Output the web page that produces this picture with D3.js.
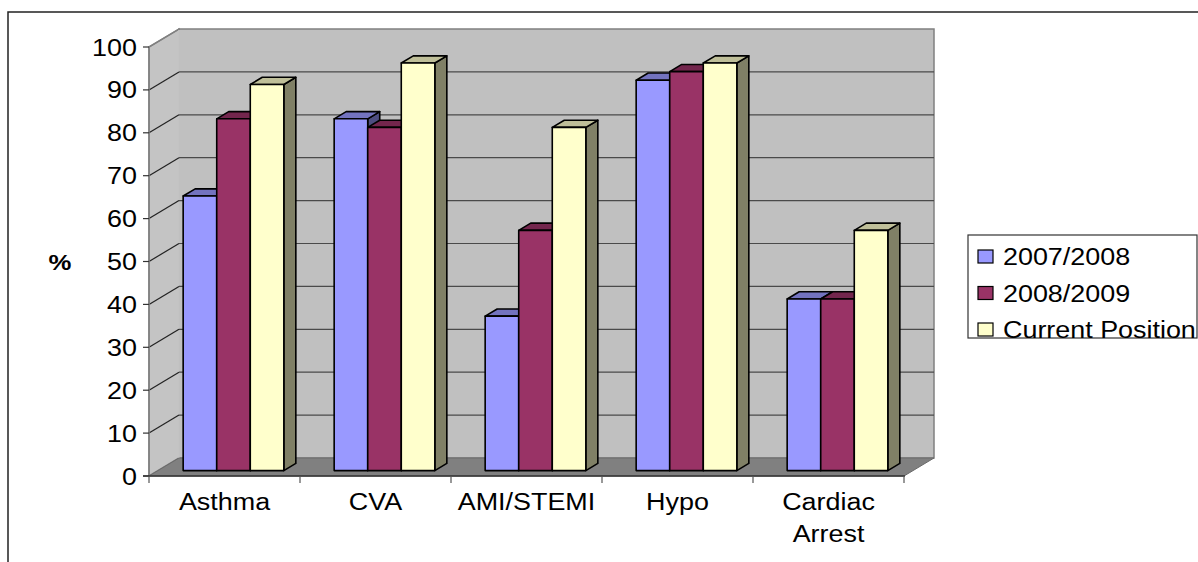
<!DOCTYPE html>
<html><head><meta charset="utf-8">
<script src="https://cdn.jsdelivr.net/npm/d3@7"></script>
<style>html,body{margin:0;padding:0;background:#fff;}svg{display:block;}</style>
</head><body>
<svg id="c" width="1198" height="562"></svg>
<script>
const categories = ["Asthma", "CVA", "AMI/STEMI", "Hypo", "Cardiac Arrest"];
const seriesNames = ["2007/2008", "2008/2009", "Current Position"];
const s2007 = [64, 82, 36, 91, 40];
const s2008 = [82, 80, 56, 93, 40];
const sCurrent = [90, 95, 80, 95, 56];
const yTicks = [0, 10, 20, 30, 40, 50, 60, 70, 80, 90, 100];
const seriesValues = [s2007, s2008, sCurrent];
const colors = ["#9999FF", "#993366", "#FFFFCC"];

const svg = d3.select("#c");
const FONT = "'Liberation Sans', Arial, sans-serif";
const SX = 1.17, FS = 23;

const left = 149, right = 904, y0px = 476, y100px = 47;
const DX = 30, DY = -18; // depth of plot box
const y = d3.scaleLinear().domain([0, 100]).range([y0px, y100px]);
const x0 = d3.scaleBand().domain(categories).range([left, right]).paddingInner(0).paddingOuter(0);
const x1 = d3.scaleBand().domain(seriesNames).range([0, x0.bandwidth()]).paddingInner(0).paddingOuter(0.75);

function txt(g, str, x, yy, anchor, opts = {}) {
  return g.append("text")
    .attr("transform", `translate(${x},${yy}) scale(${SX},1)`)
    .attr("text-anchor", anchor)
    .attr("font-family", FONT)
    .attr("font-size", opts.size || FS)
    .attr("font-weight", opts.weight || "normal")
    .attr("fill", "#000")
    .text(str);
}

// outer border
svg.append("path").attr("d", "M8,562V12H1198").attr("fill", "none").attr("stroke", "#222").attr("stroke-width", 1.5);

// back wall
svg.append("rect").attr("x", left + DX).attr("y", y100px + DY).attr("width", right - left).attr("height", y0px - y100px)
  .attr("fill", "#c0c0c0").attr("stroke", "#808080").attr("stroke-width", 1.5);
// side wall
svg.append("polygon").attr("points", [[left, y100px], [left + DX, y100px + DY], [left + DX, y0px + DY], [left, y0px]].join(" "))
  .attr("fill", "#c4c4c4").attr("stroke", "#808080").attr("stroke-width", 1.5);
svg.append("line").attr("x1", left + DX).attr("x2", left + DX).attr("y1", y100px + DY + 1).attr("y2", y0px + DY)
  .attr("stroke", "#d4d4d4").attr("stroke-width", 1.5);
// floor
svg.append("polygon").attr("points", [[left, y0px], [right, y0px], [right + DX, y0px + DY], [left + DX, y0px + DY]].join(" "))
  .attr("fill", "#808080").attr("stroke", "#6a6a6a").attr("stroke-width", 1);

// gridlines
yTicks.forEach(t => {
  if (t === 0) return;
  const yy = y(t);
  if (t !== 100) svg.append("line").attr("x1", left + DX).attr("x2", right + DX).attr("y1", yy + DY).attr("y2", yy + DY)
    .attr("stroke", "#4a4a4a").attr("stroke-width", 1.2);
  svg.append("line").attr("x1", left).attr("x2", left + DX).attr("y1", yy).attr("y2", yy + DY)
    .attr("stroke", t === 100 ? "#808080" : "#222").attr("stroke-width", 1.2);
});

// y axis
svg.append("line").attr("x1", left).attr("x2", left).attr("y1", y100px).attr("y2", y0px + 1).attr("stroke", "#808080").attr("stroke-width", 1.5);
yTicks.forEach(t => {
  svg.append("line").attr("x1", left - 6).attr("x2", left).attr("y1", y(t)).attr("y2", y(t)).attr("stroke", "#333").attr("stroke-width", 1.2);
  txt(svg, String(t), 137, y(t) + 8.5, "end");
});
// x axis
svg.append("line").attr("x1", left - 6).attr("x2", right + 1).attr("y1", y0px).attr("y2", y0px).attr("stroke", "#333").attr("stroke-width", 1.5);
const bounds = categories.map(c => x0(c)).concat([right]);
bounds.forEach(b => {
  svg.append("line").attr("x1", b).attr("x2", b).attr("y1", y0px).attr("y2", y0px + 7).attr("stroke", "#555").attr("stroke-width", 1.2);
});

// bars
const fz = 0.3, bz = 0.7;
const ox = DX * fz, oy = DY * fz;
const dx = DX * (bz - fz), dy = DY * (bz - fz);
function shade(c, k) { const r = d3.rgb(c); return d3.rgb(r.r * k, r.g * k, r.b * k).formatHex(); }
categories.forEach((cat, ci) => {
  seriesNames.forEach((sn, si) => {
    const v = seriesValues[si][ci];
    const xl = x0(cat) + x1(sn) + ox;
    const w = x1.bandwidth();
    const yt = y(v) + oy, yb = y(0) + oy;
    const g = svg.append("g").attr("stroke", "#000").attr("stroke-width", 1.6).attr("stroke-linejoin", "round");
    g.append("polygon").attr("points", [[xl + w, yt], [xl + w + dx, yt + dy], [xl + w + dx, yb + dy], [xl + w, yb]].join(" "))
      .attr("fill", shade(colors[si], 0.5));
    g.append("polygon").attr("points", [[xl, yt], [xl + dx, yt + dy], [xl + w + dx, yt + dy], [xl + w, yt]].join(" "))
      .attr("fill", shade(colors[si], 0.75));
    g.append("rect").attr("x", xl).attr("y", yt).attr("width", w).attr("height", yb - yt).attr("fill", colors[si]);
  });
});

// category labels
categories.forEach(cat => {
  const cx = x0(cat) + x0.bandwidth() / 2;
  const parts = cat === "Cardiac Arrest" ? ["Cardiac", "Arrest"] : [cat];
  parts.forEach((p, i) => txt(svg, p, cx, 510 + i * 32, "middle"));
});

// y axis title
txt(svg, "%", 60, 270, "middle", { weight: "bold", size: 22 });

// legend
svg.append("rect").attr("x", 968).attr("y", 235).attr("width", 229).attr("height", 103)
  .attr("fill", "#fff").attr("stroke", "#333").attr("stroke-width", 1.2);
seriesNames.forEach((sn, i) => {
  const cy = 256.5 + i * 36.5;
  svg.append("rect").attr("x", 978).attr("y", cy - 6.5).attr("width", 15).attr("height", 13)
    .attr("fill", colors[i]).attr("stroke", "#000").attr("stroke-width", 1.2);
  txt(svg, sn, 1003, cy + 8.5, "start");
});
</script>
</body></html>
